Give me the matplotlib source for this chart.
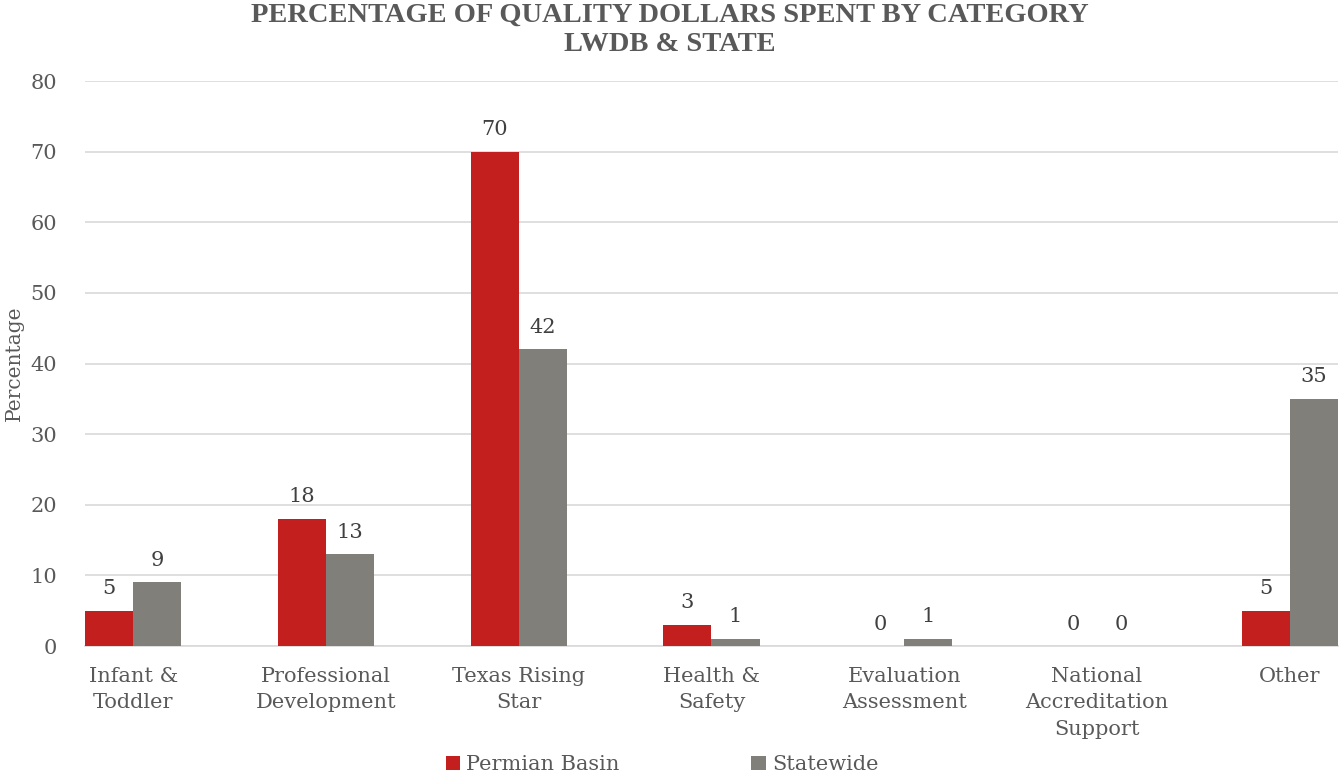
import matplotlib
matplotlib.use("Agg")
import matplotlib.pyplot as plt
import numpy as np

categories = ["Infant &\nToddler", "Professional\nDevelopment", "Texas Rising\nStar",
              "Health &\nSafety", "Evaluation\nAssessment", "National\nAccreditation\nSupport",
              "Other"]
permian = [5, 18, 70, 3, 0, 0, 5]
statewide = [9, 13, 42, 1, 1, 0, 35]
series_names = ["Permian Basin", "Statewide"]

C_RED, C_GRAY, C_TXT = "#C41F1F", "#807F7A", "#595959"
plt.rcParams["font.family"] = ["DejaVu Serif"]

fig = plt.figure(figsize=(13.4, 7.79), dpi=100)
ax = fig.add_axes([0.0634, 0.1707, 0.9351, 0.7253])

x = np.arange(len(categories))
w = 0.25
b1 = ax.bar(x - w / 2, permian, width=w, color=C_RED, label=series_names[0], zorder=3)
b2 = ax.bar(x + w / 2, statewide, width=w, color=C_GRAY, label=series_names[1], zorder=3)
for bars in (b1, b2):
    for r in bars:
        ax.annotate(f"{r.get_height():.0f}", (r.get_x() + r.get_width() / 2, r.get_height()),
                    textcoords="offset points", xytext=(0, 9), ha="center", va="bottom",
                    fontsize=15, color="#404040")

ax.set_xlim(-0.25, len(categories) - 0.75)
ax.set_ylim(0, 80)
ax.set_yticks(range(0, 81, 10))
ax.set_xticks(x)
ax.set_xticklabels(categories, fontsize=15, color=C_TXT, linespacing=1.5)
ax.tick_params(axis="y", labelsize=15, labelcolor=C_TXT, length=0, pad=20)
ax.tick_params(axis="x", length=0, pad=15)
ax.grid(True, axis="y", color="#D9D9D9", lw=1.2, zorder=0)
for s in ("top", "right", "left"):
    ax.spines[s].set_visible(False)
ax.spines["bottom"].set_color("#D9D9D9")
ax.spines["bottom"].set_linewidth(1.2)
fig.text(0.011, 0.5334, "Percentage", rotation=90, ha="center", va="center",
         fontsize=14.5, color=C_TXT)

fig.text(0.5, 0.9615, "PERCENTAGE OF QUALITY DOLLARS SPENT BY CATEGORY\nLWDB & STATE",
         ha="center", va="center", fontsize=20.5, fontweight="bold", color=C_TXT,
         family="Liberation Serif", linespacing=1.25)

fig.legend(loc="lower center", bbox_to_anchor=(0.494, -0.018), ncol=2, frameon=False,
           fontsize=15, handlelength=0.7, handleheight=0.7, handletextpad=0.3,
           columnspacing=6.3, labelcolor=C_TXT)

fig.savefig("out.png", dpi=100)
